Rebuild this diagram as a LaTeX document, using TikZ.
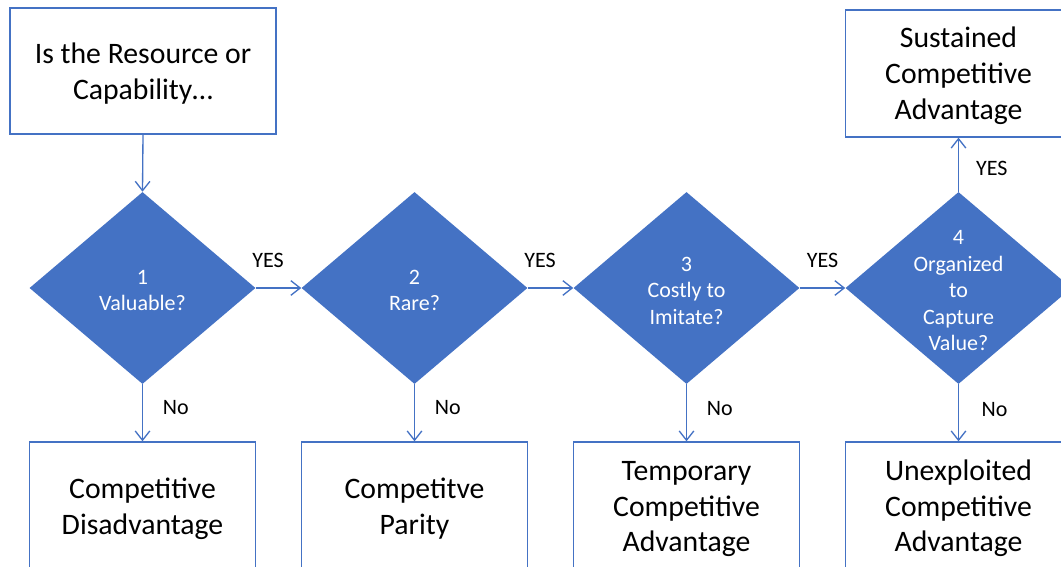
\documentclass[tikz,border=0pt]{standalone}
\usepackage{fontspec}
\setmainfont{Carlito}
\usetikzlibrary{%
	shapes.geometric,%
	arrows.meta%
}
\definecolor{officeblue}{HTML}{4472C4}
\newcommand{\stacked}[1]{\smash{\raisebox{-7.5pt}{\begin{tabular}{@{}c@{}}#1\end{tabular}}}}

\begin{document}
\begin{tikzpicture}[
        x=0.75pt, y=-0.75pt,
        flow/.style={draw=officeblue, line width=1pt,
        	-{Straight Barb[length=7pt,width=11pt]}},
        outcome/.style={rectangle, draw=officeblue, line width=1pt,
        	minimum width=169.5pt, minimum height=96pt,
        	font={\fontsize{22.3}{26.8}\selectfont}},
        decision/.style={diamond, fill=officeblue, text=white, inner sep=0pt,
        	minimum width=169.5pt, minimum height=144pt,
        	font={\fontsize{16.5}{19.9}\selectfont}},
        answer/.style={inner sep=0pt, font={\fontsize{16.5}{19.9}\selectfont}}
    ]

    \useasboundingbox (0,0) rectangle (1061,567);
    \clip (0,0) rectangle (1061,567);

    %start question
    \node[outcome, minimum width=199.5pt, minimum height=94.5pt] (start) at (143,71)
        {\stacked{Is the Resource or\\Capability…}};

    %the four questions
    \node[decision] (valuable) at (142.5,288) {\stacked{1\\Valuable?}};
    \node[decision] (rare) at (414.5,288) {\stacked{2\\Rare?}};
    \node[decision] (costly) at (686.5,288) {\stacked{3\\Costly to\\Imitate?}};
    \node[decision] (organized) at (958.5,288) {\stacked{4\\Organized\\to\\Capture\\Value?}};

    %outcomes
    \node[outcome, minimum height=95.25pt] (sustained) at (958.5,73.5)
        {\stacked{Sustained\\Competitive\\Advantage}};
    \node[outcome] (disadvantage) at (142.5,506) {\stacked{Competitive\\Disadvantage}};
    \node[outcome] (parity) at (414.5,506) {\stacked{Competitve\\Parity}};
    \node[outcome] (temporary) at (686.5,506) {\stacked{Temporary\\Competitive\\Advantage}};
    \node[outcome] (unexploited) at (958.5,506) {\stacked{Unexploited\\Competitive\\Advantage}};

    %yes path
    \draw[flow] (start.south) -- (valuable.north);
    \draw[flow] (valuable.east) -- node[answer, pos=.27, yshift=21pt] {YES} (rare.west);
    \draw[flow] (rare.east) -- node[answer, pos=.27, yshift=21pt] {YES} (costly.west);
    \draw[flow] (costly.east) -- node[answer, pos=.5, yshift=21pt] {YES} (organized.west);
    \draw[flow] (organized.north) -- node[answer, pos=.44, xshift=25pt] {YES} (sustained.south);

    %no path
    \draw[flow] (valuable.south) -- node[answer, pos=.4, xshift=25pt] {No} (disadvantage.north);
    \draw[flow] (rare.south) -- node[answer, pos=.4, xshift=25pt] {No} (parity.north);
    \draw[flow] (costly.south) -- node[answer, pos=.42, xshift=25pt] {No} (temporary.north);
    \draw[flow] (organized.south) -- node[answer, pos=.45, xshift=27pt] {No} (unexploited.north);
\end{tikzpicture}
\end{document}
